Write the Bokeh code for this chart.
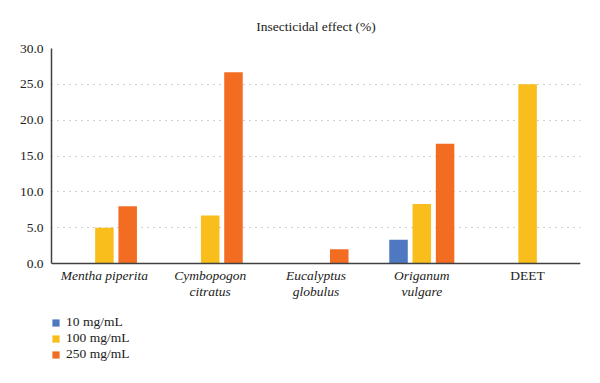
from bokeh.plotting import figure
from bokeh.models import (ColumnDataSource, FactorRange, Range1d, Legend, LegendItem,
                          FixedTicker, NumeralTickFormatter, Title, Span)
from bokeh.core.properties import value
from bokeh.transform import dodge
from bokeh.embed import file_html
from bokeh.resources import INLINE

# Data
categories = ["Mentha piperita", "Cymbopogon citratus", "Eucalyptus globulus",
              "Origanum vulgare", "DEET"]
category_labels = ["Mentha piperita", "Cymbopogon\ncitratus", "Eucalyptus\nglobulus",
                   "Origanum\nvulgare", "DEET"]
label_styles = ["italic", "italic", "italic", "italic", "normal"]
dose_10 = [0.0, 0.0, 0.0, 3.3, 0.0]
dose_100 = [5.0, 6.7, 0.0, 8.3, 25.0]
dose_250 = [8.0, 26.7, 2.0, 16.7, 0.0]
series_names = ["10 mg/mL", "100 mg/mL", "250 mg/mL"]
y_ticks = [0, 5, 10, 15, 20, 25, 30]

colors = ["#4E79C1", "#F9BD1C", "#F26C22"]
FONT = "Liberation Serif"
TEXT = "#222222"

W, H = 600, 383
TOP, LEFT, RIGHT = 48, 51, 20
AXIS_Y = 263                      # pixel row of the value axis baseline
px_per_unit = (AXIS_Y - TOP) / 30.0
y_low = -(H - AXIS_Y) / px_per_unit   # extend the frame down to hold labels and legend

source = ColumnDataSource(dict(cat=categories, d10=dose_10, d100=dose_100, d250=dose_250))
label_src = ColumnDataSource(dict(cat=categories, label=category_labels,
                                  style=label_styles, y=[0] * len(categories)))

p = figure(width=W, height=H, output_backend="svg", toolbar_location=None,
           x_range=FactorRange(factors=categories, range_padding=0),
           y_range=Range1d(y_low, 30), x_axis_location=None,
           min_border_left=LEFT, min_border_right=RIGHT, min_border_top=TOP,
           min_border_bottom=0)
p.outline_line_color = None
p.background_fill_color = "white"

p.title = Title(text="Insecticidal effect (%)", align="center", text_font=FONT,
                text_font_size="13.5px", text_font_style="normal", text_color=TEXT,
                standoff=30)

renderers = []
for field, offset, color in zip(["d10", "d100", "d250"], [-0.22, 0.0, 0.22], colors):
    r = p.vbar(x=dodge("cat", offset, range=p.x_range), top=field, width=0.175,
               source=source, fill_color=color, line_color=None)
    renderers.append(r)

# Value axis
p.yaxis.ticker = FixedTicker(ticks=y_ticks)
p.yaxis.bounds = (0, 30)
p.yaxis.formatter = NumeralTickFormatter(format="0.0")
p.yaxis.major_tick_line_color = None
p.yaxis.minor_tick_line_color = None
p.yaxis.axis_line_color = "#404040"
p.yaxis.axis_line_width = 1.5
p.yaxis.major_label_text_font = FONT
p.yaxis.major_label_text_font_size = "13.5px"
p.yaxis.major_label_text_color = TEXT
p.yaxis.major_label_standoff = 2

p.xgrid.grid_line_color = None
p.ygrid.grid_line_color = "#a0a0a0"
p.ygrid.grid_line_dash = "1 5"
p.ygrid.grid_line_width = 1

# Category baseline
p.add_layout(Span(location=0, dimension="width", line_color="#404040", line_width=1.5))

# Category labels beneath the baseline
p.text(x="cat", y="y", text="label", source=label_src, y_offset=4,
       text_align="center", text_baseline="top", text_font=value(FONT),
       text_font_size=value("13.5px"), text_font_style="style",
       text_color=TEXT, text_line_height=1.1)

legend = Legend(items=[LegendItem(label=n, renderers=[r]) for n, r in zip(series_names, renderers)],
                location=(0, 21), orientation="vertical",
                glyph_width=9, glyph_height=9, label_height=14, label_standoff=6,
                spacing=0, padding=0, margin=0, border_line_color=None,
                background_fill_alpha=0,
                label_text_font=FONT, label_text_font_size="13.5px", label_text_color=TEXT)
p.add_layout(legend, "center")

open("out.html", "w").write(file_html(p, INLINE))
